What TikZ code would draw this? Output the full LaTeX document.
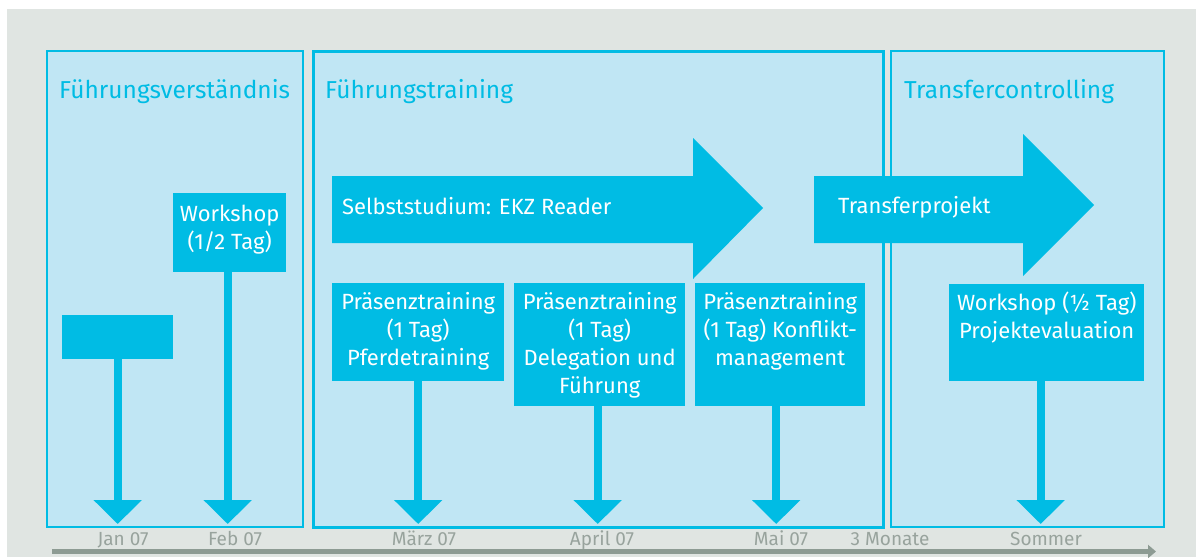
\documentclass[tikz,border=0pt]{standalone}
\usepackage{fontspec}
\setmainfont{Fira Sans}
\usetikzlibrary{arrows.meta,positioning}
\definecolor{ekzcyan}{HTML}{00BCE4}
\definecolor{ekzlight}{HTML}{C0E6F4}
\definecolor{ekzback}{HTML}{E0E5E2}
\definecolor{ekzdate}{HTML}{98A39D}
\definecolor{ekzbar}{HTML}{8D9B93}
\tikzset{
    phase/.style={
    rectangle,draw=ekzcyan,fill=ekzlight,line width=2pt,anchor=north west,inner sep=0pt
    },
    phasetitle/.style={
    anchor=base west,text=ekzcyan,inner sep=0pt,font=\fontsize{24.5}{30}\selectfont
    },
    event/.style={
    rectangle,fill=ekzcyan,anchor=north west,inner sep=0pt
    },
    eventtext/.style={
    anchor=north,text=white,align=center,inner sep=0pt,font=\fontsize{22}{28}\selectfont
    },
    stem/.style={
    draw=ekzcyan,line width=8pt,-{Triangle[width=47pt,length=24pt]}
    },
    date/.style={
    anchor=base,text=ekzdate,inner sep=0pt,font=\fontsize{19}{20}\selectfont
    },
}

\begin{document}
\begin{tikzpicture}[x=1pt,y=-1pt]
   \useasboundingbox (0,0) rectangle (1196,557);
   \fill[ekzback] (7,9) rectangle (1196,557);

   % phases
   \node[phase,minimum width=256,minimum height=476] (ph1) at (46,50) {};
   \node[phase,minimum width=570,minimum height=476,line width=3pt] (ph2) at (312,50) {};
   \node[phase,minimum width=273,minimum height=476] (ph3) at (890,50) {};
   \node[phasetitle] (t1) at (59,98) {Führungsverständnis};
   \node[phasetitle] (t2) at (325,98) {Führungstraining};
   \node[phasetitle] (t3) at (904,98) {Transfercontrolling};

   % long arrows
   \fill[ekzcyan] (332,176) -- (693,176) -- (693,138) -- (763,208) -- (693,279)
      -- (693,243) -- (332,243) -- cycle;
   \fill[ekzcyan] (814,176) -- (1023,176) -- (1023,134) -- (1094,205) -- (1023,276)
      -- (1023,243) -- (814,243) -- cycle;
   \node[eventtext,anchor=base west] (self) at (342,214) {Selbststudium: EKZ Reader};
   \node[eventtext,anchor=base west] (proj) at (838,213) {Transferprojekt};

   % events
   \node[event,minimum width=111,minimum height=44] (jan) at (62,315) {};
   \node[event,minimum width=113,minimum height=79] (feb) at (173,193) {};
   \node[event,minimum width=172,minimum height=98] (pr1) at (332,283) {};
   \node[event,minimum width=171,minimum height=123] (pr2) at (514,283) {};
   \node[event,minimum width=170,minimum height=123] (pr3) at (695,283) {};
   \node[event,minimum width=195,minimum height=97] (ws) at (949,284) {};

   \node[eventtext] at ([yshift=-12]feb.north) {Workshop\\(1/2 Tag)};
   \node[eventtext] at ([yshift=-9]pr1.north) {Präsenztraining\\(1 Tag)\\Pferdetraining};
   \node[eventtext] at ([yshift=-9]pr2.north) {Präsenztraining\\(1 Tag)\\Delegation und\\Führung};
   \node[eventtext] at ([yshift=-9]pr3.north) {Präsenztraining\\(1 Tag) Konflikt-\\management};
   \node[eventtext] at ([yshift=-8]ws.north) {Workshop (½ Tag)\\Projektevaluation};

   % time line
   \coordinate (tip) at (0,524);
   \coordinate (tl0) at (52,551.5);
   \coordinate (tl1) at (1156,551.5);
   \draw[ekzbar,line width=5pt,-{Triangle[width=13pt,length=8pt]}] (tl0) -- (tl1);

   \draw[stem] (jan.south) -- (jan.south |- tip);
   \draw[stem] ([xshift=-2]feb.south) -- ([xshift=-2]feb.south |- tip);
   \draw[stem] (pr1.south) -- (pr1.south |- tip);
   \draw[stem] ([xshift=-2]pr2.south) -- ([xshift=-2]pr2.south |- tip);
   \draw[stem] ([xshift=-4]pr3.south) -- ([xshift=-4]pr3.south |- tip);
   \draw[stem] ([xshift=-6]ws.south) -- ([xshift=-6]ws.south |- tip);

   \node[date] (d1) at (123,545) {Jan 07};
   \node[date] (d2) at (235,545) {Feb 07};
   \node[date] (d3) at (424,545) {März 07};
   \node[date] (d4) at (602,545) {April 07};
   \node[date] (d5) at (781,545) {Mai 07};
   \node[date] (d6) at (890,545) {3 Monate};
   \node[date] (d7) at (1046,545) {Sommer};
\end{tikzpicture}
\end{document}
